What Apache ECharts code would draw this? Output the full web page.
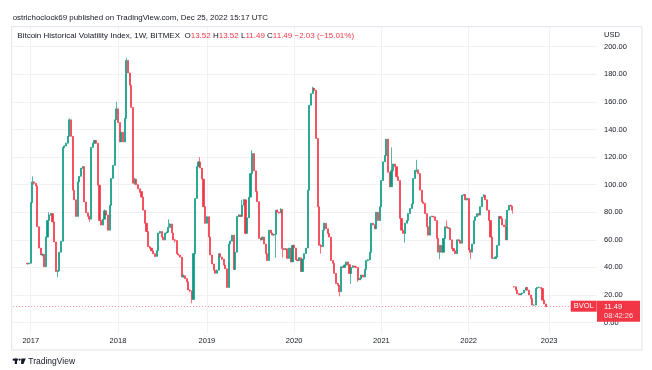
<!DOCTYPE html>
<html><head><meta charset="utf-8">
<script src="https://cdn.jsdelivr.net/npm/echarts@6/dist/echarts.min.js"></script>
<style>html,body{margin:0;padding:0;background:#fff}#c{width:652px;height:370px}</style>
</head><body><div id="c"></div>
<script>
// Weekly candles [open, close, low, high]
const bars2016 = [[43,42.5,42,43.5],[42.5,43,42.5,43.2]];
const bars2017 = [[43,87,43,87],[87,102,87,106],[102,101,100,102.5],[101,99,99,101],[99,69.5,69.5,99],[69.5,54,54,69.5],[54,49,49,54],[49,49.5,48,50],[49.5,40.5,40.5,49.5],[40.5,62,40.5,62],[62,74,62,74],[74,78,74,80],[78,79,77.5,79.5],[79,73,73,79],[73,58.5,58.5,73],[58.5,37,37,58.5],[37,37.5,33,38],[37.5,51,37.5,51],[51,59,51,59],[59,127,59,127],[127,128,126.5,128.5],[128,130,128,130.5],[130,135,130,135],[135,147,135,148],[147,135,135,147],[135,96,96,135],[96,89,89,96],[89,77,77,89],[77,102,77,102],[102,106,102,106],[106,112,106,112],[112,113,111.5,113.5],[113,87.5,87.5,113],[87.5,79.6,79.6,87.5],[79.6,77,77,79.6],[77,75,73,77.5],[75,127,75,127],[127,130,127,130],[130,132,130,132.5],[132,130,130,132],[130,99.6,99.6,130],[99.6,74,74,99.6],[74,70.7,70.7,74],[70.7,75,70.7,75],[75,81,75,82],[81,78,78,81],[78,67,67,78],[67,85,67,85],[85,104.5,85,104.5],[104.5,114,104.5,114],[114,147,114,147],[147,155,147,160]];
const bars2018 = [[155,145,145,155],[145,131,131,145],[131,138,131,138],[138,131,131,138],[131,148,131,148],[148,190,148,192],[190,181,181,190],[181,172,172,181],[172,156,156,172],[156,101,101,156],[101,104,100,105],[104,100,100,104],[100,97,97,100],[97,95,94,97],[95,91,91,95],[91,81.5,81.5,91],[81.5,72,72,81.5],[72,66,66,72],[66,55,55,66],[55,54,53.5,55.5],[54,52,52,54],[52,50,50,52],[50,48,47.5,50],[48,52,48,52],[52,65,52,65],[65,66,64.5,66.5],[66,62,62,66],[62,60,59.5,62],[60,65,60,65],[65,65.5,64.5,66],[65.5,69,65.5,75],[69,71.5,69,72],[71.5,65,65,71.5],[65,60,60,65],[60,59.5,58,60.5],[59.5,50,50,59.5],[50,49,48.5,50],[49,47.5,47,49],[47.5,33,33,47.5],[33,34,32.5,35],[34,32,31.5,34],[32,29.6,29.6,32],[29.6,23.6,23.6,29.6],[23.6,23,22,24],[23,16.8,14,23],[16.8,50,16.8,50],[50,90,50,90],[90,113,90,113],[113,116.5,113,117],[116.5,112,112,120],[112,104,104,112],[104,84,84,104],[84,72,72,84]];
const bars2019 = [[72,76.7,72,77],[76.7,62,62,76.7],[62,49,49,62],[49,42.5,42.5,49],[42.5,38,38,42.5],[38,35.7,35.7,38],[35.7,38,35.7,38.5],[38,50,38,50],[50,47.5,47.5,50],[47.5,46,45.5,47.5],[46,41.7,41.7,46],[41.7,39,39,41.7],[39,25.5,25.5,39],[25.5,57,25.5,57],[57,59,57,59.5],[59,63.4,59,63.4],[63.4,38.5,38.5,63.4],[38.5,51,38.5,51],[51,77,51,77],[77,78,76.5,78.5],[78,77,76.5,78],[77,85,77,89],[85,89,85,89.5],[89,64.7,64,89],[64.7,76,64.7,76],[76,91,76,91],[91,108,91,108],[108,122.6,108,125],[122.6,110,110,122.6],[110,95,95,110],[95,87.6,87.6,95],[87.6,61,61,87.6],[61,60,59.5,61.5],[60,62,60,62.5],[62,57,57,62],[57,50,50,57],[50,45,45,50],[45,67,45,67],[67,65,65,67],[65,63.5,63,65],[63.5,64,63,64.5],[64,81.5,47,81.5],[81.5,80,80,82],[80,79.5,79,80.5],[79.5,82,79.5,83],[82,53.7,47,82],[53.7,53,52.5,54],[53,53.5,52.5,54],[53.5,46.5,46.5,53.5],[46.5,54,46.5,54],[54,44,44,54],[44,56,44,56]];
const bars2020 = [[56,54,54,56.5],[54,45.5,45.5,54],[45.5,45,44.5,46],[45,47,45,47.5],[47,37,37,47],[37,46,37,46],[46,50,46,50],[50,54,50,54],[54,96,54,96],[96,157.6,96,157.6],[157.6,166,157.6,166],[166,170,166,171],[170,168.5,168,170],[168.5,133.5,133.5,168.5],[133.5,84,84,133.5],[84,56,56,84],[56,55,50,57],[55,67,55,67],[67,72,67,72.5],[72,68,68,72],[68,64.6,64.6,68],[64.6,62,62,64.6],[62,45,45,62],[45,43,43,45],[43,35.7,35.7,43],[35.7,28.4,28.4,35.7],[28.4,27,26.5,29],[27,22.4,19,27],[22.4,40.5,22.4,40.5],[40.5,40,39.5,41],[40,41.7,40,42],[41.7,44,41.7,44],[44,42,41.5,44],[42,35.6,35.6,42],[35.6,40,28,40],[40,41,40,41.5],[41,40.5,40,41],[40.5,40,39.5,40.5],[40,30.9,29.5,40],[30.9,32,30.9,32.5],[32,34.5,32,34.5],[34.5,33,33,34.5],[33,38.5,33,38.5],[38.5,45,38.5,45],[45,45.5,44.5,46],[45.5,51,45.5,51],[51,72,51,72],[72,71,70.5,72],[71,68,68,71],[68,80,68,80],[80,74,74,80],[74,84,74,84]];
const bars2021 = [[84,103,84,103],[103,116.6,103,116.6],[116.6,121,116.6,121.5],[121,133,121,133],[133,109,109,133],[109,98.5,98.5,109],[98.5,110,98.5,127],[110,115,110,115],[115,113,113,115],[113,105.7,105.7,113],[105.7,103,103,105.7],[103,75.5,75.5,103],[75.5,67,67,75.5],[67,64.6,64.6,67],[64.6,72,58,72],[72,74,72,74],[74,79,74,79],[79,82.7,79,82.7],[82.7,86,82.7,86],[86,104.5,86,104.5],[104.5,110.5,104.5,110.5],[110.5,110.5,109,118],[110.5,108,108,111],[108,96,96,108],[96,87.6,87.6,96],[87.6,86.5,86,87.6],[86.5,79,79,86.5],[79,69.5,69.5,79],[69.5,63.4,63.4,69.5],[63.4,76.7,63.4,76.7],[76.7,77,76.5,77.5],[77,76.7,76,77.5],[76.7,74,74,76.7],[74,61,61,74],[61,51,51,61],[51,56,46,56],[56,51,51,56],[51,61,51,61],[61,69.5,61,69.5],[69.5,68.5,68.5,74],[68.5,68.5,68,69],[68.5,60,60,68.5],[60,53.7,53.7,60],[53.7,52,52,53.7],[52,50,50,52],[50,60,50,60],[60,59.5,59,60.5],[59.5,57.5,57.5,59.5],[57.5,92.4,57.5,92.4],[92.4,92.8,92,93],[92.8,89,89,92.8],[89,90,88.5,90.5]];
const bars2022a = [[90,52.6,52.6,90],[52.6,51,46,53],[51,57,51,57],[57,74,57,74],[74,76.7,74,77],[76.7,79,76.7,79],[79,78,77.5,79],[78,84,78,84],[84,91,84,91],[91,92.4,91,93],[92.4,89,89,92.4],[89,81.5,81.5,89],[81.5,74,74,81.5],[74,62,62,74],[62,46.5,46.5,62],[46.5,46.5,46,47],[46.5,47.5,46.5,48],[47.5,56,47.5,56],[56,77,56,77],[77,75.5,75.5,77],[75.5,70.7,70.7,75.5],[70.7,69.5,69.5,70.7],[69.5,60,60,75],[60,81.5,60,81.5],[81.5,85,81.5,85],[85,84.5,84,85.5],[84.5,81.5,79,84.5]];
const bars2022b = [[26,26,25.5,26.5],[26,23.5,23.5,26],[23.5,21,21,23.5],[21,20,20,21],[20,21,20,21],[21,21.5,21,21.5],[21.5,23.5,21.5,23.5],[23.5,25.5,23.5,25.5],[25.5,23.5,23.5,25.5],[23.5,20,20,23.5],[20,17.5,17.5,20],[17.5,12.7,12.7,17.5],[12.7,12.7,12.5,13],[12.7,24.8,12.7,24.8],[24.8,25.5,24.8,25.5],[25.5,25.5,25,26],[25.5,24.8,24.8,25.5],[24.8,16.3,16.3,24.8],[16.3,13.52,13.52,16.3],[13.52,11.49,11.49,13.52]];
const yTickValues = [0,20,40,60,80,100,120,140,160,180,200];
const lastClose = 11.49;

// weekly categories: first bar 2016-12-19, 4 missing weeks after 2022-07-04
const firstBarDay = Date.UTC(2016,11,19);
const padBefore = 8, padAfter = 30, gapAfter = 289, gapWeeks = 4;
const bars = [].concat(bars2016,bars2017,bars2018,bars2019,bars2020,bars2021,bars2022a,bars2022b);
const categories = [];
for (let i = -padBefore; i < bars.length + padAfter; i++) {
  const w = i + (i > gapAfter ? gapWeeks : 0);
  categories.push(new Date(firstBarDay + w*7*864e5).toISOString().slice(0,10));
}
const seriesData = [];
for (let i = 0; i < padBefore; i++) seriesData.push('-');
bars.forEach(b => seriesData.push(b));
for (let i = 0; i < padAfter; i++) seriesData.push('-');
const yearStart = (idx) => idx > 0 && categories[idx].slice(0,4) !== categories[idx-1].slice(0,4);

const FONT = '"Liberation Sans", Arial, sans-serif';
const TXT = '#131722', RED = '#f23645', GREEN = '#089981', GRID = '#eff1f4';
const L = 13.1, R = 55;

const chart = echarts.init(document.getElementById('c'), null, {renderer:'canvas'});
chart.setOption({
  animation: false,
  backgroundColor: '#fff',
  textStyle: {fontFamily: FONT},
  grid: [
    {left: L, right: R, top: 46.7, bottom: 47.4},
    {left: L, right: R, top: 26.7, bottom: 37}
  ],
  xAxis: [
    {type:'category', gridIndex:0, data: categories, show:false},
    {type:'category', gridIndex:1, data: categories,
     axisLine:{show:false}, axisTick:{show:false},
     axisLabel:{interval:(i)=>yearStart(i), formatter:(v)=>v.slice(0,4), color:TXT, fontSize:7.5, margin:4, fontFamily:FONT},
     splitLine:{show:true, alignWithLabel:true, interval:(i)=>yearStart(i), lineStyle:{color:GRID, width:1}}}
  ],
  yAxis: [
    {type:'value', gridIndex:0, position:'right', min: yTickValues[0], max: yTickValues[yTickValues.length-1], interval: 20,
     axisLine:{show:false}, axisTick:{show:false},
     axisLabel:{formatter:(v)=>v.toFixed(2), color:TXT, fontSize:7.5, margin:7, fontFamily:FONT},
     splitLine:{lineStyle:{color:GRID, width:1}}},
    {type:'value', gridIndex:1, min:0, max:1, show:false}
  ],
  series: [{
    type:'candlestick', xAxisIndex:0, yAxisIndex:0, data: seriesData,
    barWidth: 1.6,
    itemStyle:{color:GREEN, color0:RED, borderColor:GREEN, borderColor0:RED, borderWidth:0.7},
    markLine:{silent:true, symbol:['none','none'], label:{show:false},
      lineStyle:{color:RED, type:[1,2], width:1, opacity:0.55},
      data:[{yAxis:lastClose}]}
  }],
  graphic: [
    {type:'rect', shape:{x:11.7, y:26.7, width:630.3, height:323.3}, style:{fill:'none', stroke:'#e0e3eb', lineWidth:1}, z:1},
    {type:'text', x:12.7, y:17.5, style:{text:'ostrichoclock69 published on TradingView.com, Dec 25, 2022 15:17 UTC', fill:TXT, font:'7.9px '+FONT, verticalAlign:'middle'}, z:10},
    {type:'text', x:17.3, y:36, style:{
      text:'{a|Bitcoin Historical Volatility Index, 1W, BITMEX}  {a|O}{b|13.52} {a|H}{b|13.52} {a|L}{b|11.49} {a|C}{b|11.49} {b|\u22122.03 (\u221215.01%)}',
      verticalAlign:'middle', font:'8px '+FONT,
      rich:{a:{fill:TXT, fontSize:8, fontFamily:FONT}, b:{fill:RED, fontSize:8, fontFamily:FONT}}}, z:10},
    {type:'text', x:604, y:35, style:{text:'USD', fill:TXT, font:'7.5px '+FONT, verticalAlign:'middle'}, z:10},
    {type:'rect', shape:{x:570.7, y:300.7, width:26, height:11}, style:{fill:RED}, z:20},
    {type:'text', x:583.7, y:306.3, style:{text:'BVOL', fill:'#fff', font:'7.5px '+FONT, align:'center', verticalAlign:'middle'}, z:21},
    {type:'rect', shape:{x:597, y:300.7, width:43, height:21}, style:{fill:RED}, z:20},
    {type:'text', x:604, y:306.5, style:{text:'11.49', fill:'#fff', font:'7.5px '+FONT, verticalAlign:'middle'}, z:21},
    {type:'text', x:604, y:315.8, style:{text:'08:42:26', fill:'rgba(255,255,255,0.85)', font:'7.5px '+FONT, verticalAlign:'middle'}, z:21},
    {type:'rect', shape:{x:12.7, y:358.6, width:5.2, height:2}, style:{fill:TXT}, z:10},
    {type:'rect', shape:{x:14.8, y:358.6, width:2.2, height:5.4}, style:{fill:TXT}, z:10},
    {type:'circle', shape:{cx:19.6, cy:359.6, r:1.1}, style:{fill:TXT}, z:10},
    {type:'polygon', shape:{points:[[21.3,358.6],[25.8,358.6],[23.4,364],[21.1,364]]}, style:{fill:TXT}, z:10},
    {type:'text', x:28.3, y:361.2, style:{text:'TradingView', fill:TXT, font:'8.5px '+FONT, verticalAlign:'middle'}, z:10}
  ]
});
</script>
</body></html>
